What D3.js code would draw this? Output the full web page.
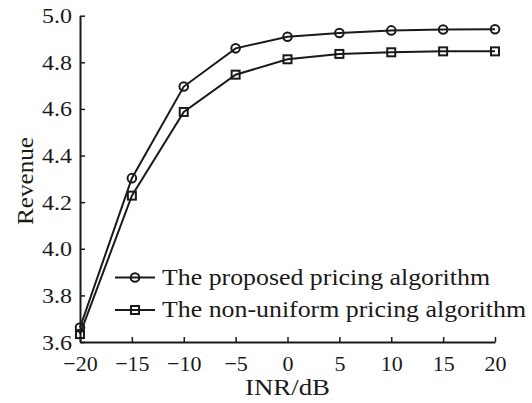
<!DOCTYPE html>
<html><head><meta charset="utf-8">
<script src="https://cdn.jsdelivr.net/npm/d3@7"></script>
<style>body{margin:0;background:#fff}svg{display:block}</style>
</head><body>
<svg id="c" width="532" height="403"></svg>
<script>
const inr = [-20, -15, -10, -5, 0, 5, 10, 15, 20];
const proposed = [3.662, 4.303, 4.696, 4.860, 4.910, 4.926, 4.937, 4.941, 4.942];
const nonUniform = [3.634, 4.228, 4.587, 4.747, 4.813, 4.836, 4.843, 4.847, 4.847];
const xTicks = [-20, -15, -10, -5, 0, 5, 10, 15, 20];
const yTicks = [3.6, 3.8, 4.0, 4.2, 4.4, 4.6, 4.8, 5.0];
const seriesNames = ["The proposed pricing algorithm", "The non-uniform pricing algorithm"];

const svg = d3.select("#c");
const font = "'Liberation Serif', 'DejaVu Serif', serif";
const fs = 24, tfs = 22;
const x = d3.scaleLinear().domain([-20, 20]).range([80, 495]);
const y = d3.scaleLinear().domain([3.6, 5.0]).range([342, 15.7]);
const col = "#1a1a1a";

// axes
const xa = svg.append("g").attr("transform", `translate(0,${y(3.6)})`)
  .call(d3.axisBottom(x).tickValues(xTicks).tickSizeInner(-5).tickSizeOuter(0).tickPadding(13)
    .tickFormat(d => d < 0 ? "\u2212" + Math.abs(d) : d));
const ya = svg.append("g").attr("transform", `translate(${x(-20)},0)`)
  .call(d3.axisLeft(y).tickValues(yTicks).tickSizeInner(-5).tickSizeOuter(0).tickPadding(8)
    .tickFormat(d3.format(".1f")));
[xa, ya].forEach(g => {
  g.select(".domain").attr("stroke", col).attr("stroke-width", 2);
  g.selectAll(".tick line").attr("stroke", col).attr("stroke-width", 1.5);
  g.selectAll("text").attr("font-family", font).attr("font-size", tfs).attr("fill", col);
});
ya.selectAll(".tick text").attr("textLength", 30).attr("lengthAdjust", "spacingAndGlyphs");

// lines
const line = d3.line().x((d, i) => x(inr[i])).y(d => y(d));
[proposed, nonUniform].forEach(s => {
  svg.append("path").datum(s).attr("d", line).attr("fill", "none")
    .attr("stroke", col).attr("stroke-width", 2);
});
svg.append("g").selectAll("circle").data(proposed).join("circle")
  .attr("cx", (d, i) => x(inr[i])).attr("cy", d => y(d)).attr("r", 4.3)
  .attr("fill", "none").attr("stroke", col).attr("stroke-width", 2);
svg.append("g").selectAll("rect").data(nonUniform).join("rect")
  .attr("x", (d, i) => x(inr[i]) - 4).attr("y", d => y(d) - 4)
  .attr("width", 8).attr("height", 8)
  .attr("fill", "none").attr("stroke", col).attr("stroke-width", 2);

// legend
const leg = svg.append("g");
const ly = [277.5, 310];
const lw = [328, 364];
seriesNames.forEach((n, i) => {
  leg.append("line").attr("x1", 115).attr("x2", 155).attr("y1", ly[i]).attr("y2", ly[i])
    .attr("stroke", col).attr("stroke-width", 2);
  if (i === 0) leg.append("circle").attr("cx", 135).attr("cy", ly[i]).attr("r", 4.3)
    .attr("fill", "none").attr("stroke", col).attr("stroke-width", 2);
  else leg.append("rect").attr("x", 131).attr("y", ly[i] - 4).attr("width", 8).attr("height", 8)
    .attr("fill", "none").attr("stroke", col).attr("stroke-width", 2);
  leg.append("text").attr("x", 162).attr("y", ly[i] + 7).text(n)
    .attr("textLength", lw[i]).attr("lengthAdjust", "spacingAndGlyphs")
    .attr("font-family", font).attr("font-size", fs).attr("fill", col);
});

// axis titles
svg.append("text").attr("x", 245).attr("y", 395)
  .attr("textLength", 85).attr("lengthAdjust", "spacingAndGlyphs")
  .attr("font-family", font).attr("font-size", fs).attr("fill", col).text("INR/dB");
svg.append("text").attr("transform", "translate(33,225) rotate(-90)")
  .attr("textLength", 88).attr("lengthAdjust", "spacingAndGlyphs")
  .attr("font-family", font).attr("font-size", fs).attr("fill", col).text("Revenue");
</script>
</body></html>
